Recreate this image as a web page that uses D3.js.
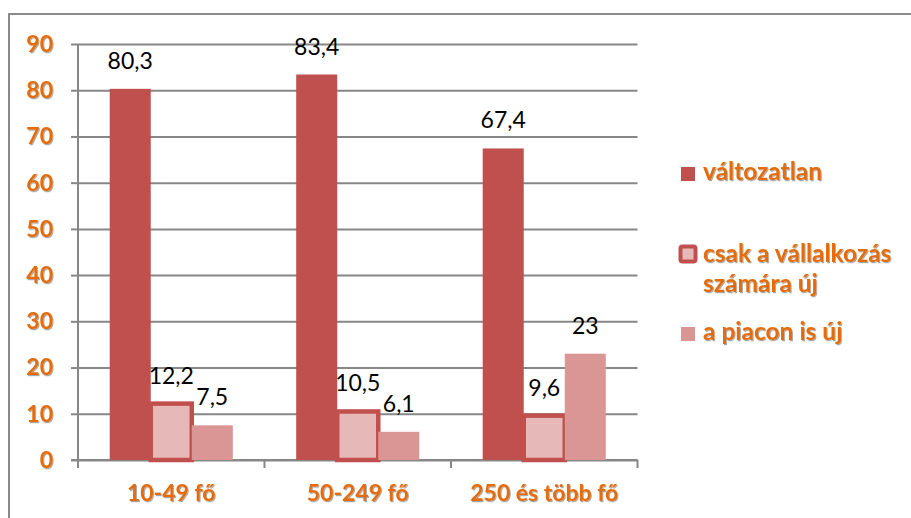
<!DOCTYPE html>
<html>
<head>
<meta charset="utf-8">
<script src="https://cdn.jsdelivr.net/npm/d3@7"></script>
<style>
  html, body { margin: 0; padding: 0; background: #fff; }
  svg { display: block; }
  text { font-family: Lato, "Open Sans", sans-serif; }
</style>
</head>
<body>
<svg id="chart" width="911" height="518"></svg>
<script>
// Company size groups and the three innovation categories (percent)
const categories = ["10-49 fő", "50-249 fő", "250 és több fő"];
const seriesNames = ["változatlan", "csak a vállalkozás számára új", "a piacon is új"];
const valtozatlan = [80.3, 83.4, 67.4];
const vallalkozasUj = [12.2, 10.5, 9.6];
const piaconUj = [7.5, 6.1, 23];
const yTicks = [0, 10, 20, 30, 40, 50, 60, 70, 80, 90];

const seriesValues = [valtozatlan, vallalkozasUj, piaconUj];
const seriesKeys = ["s0", "s1", "s2"];

const RED = "#C0504D", PALE = "#E6B9B8", ROSE = "#D99694";
const ORANGE = "#E46C0A", GRID = "#878787";

const svg = d3.select("#chart");
const defs = svg.append("defs");
const f = defs.append("filter").attr("id", "shadow")
  .attr("x", "-10%").attr("y", "-20%").attr("width", "130%").attr("height", "150%");
f.append("feDropShadow").attr("dx", 1).attr("dy", 1.2).attr("stdDeviation", 0.7)
  .attr("flood-color", "#000").attr("flood-opacity", 0.35);

// outer frame (top and left edges)
svg.append("path").attr("d", "M9,518V14H911")
  .attr("fill", "none").attr("stroke", "#8a8a8a").attr("stroke-width", 2);

const plotLeft = 78, plotRight = 637.5, plotTop = 44, plotBottom = 460;

const y = d3.scaleLinear().domain([0, 90]).range([plotBottom, plotTop]);
const x = d3.scaleBand().domain(categories).range([plotLeft, plotRight]);
const xs = d3.scaleBand().domain(seriesKeys)
  .range([x.bandwidth() * 0.17, x.bandwidth() * 0.83]);

// horizontal gridlines
const grid = svg.append("g").attr("transform", `translate(${plotLeft},0)`)
  .call(d3.axisLeft(y).tickValues(yTicks).tickSize(-(plotRight - plotLeft)).tickFormat(""));
grid.select(".domain").remove();
grid.selectAll("line").attr("stroke", GRID).attr("stroke-width", 2);

// y axis with outer ticks and labels
const yAxis = svg.append("g").attr("transform", `translate(${plotLeft},0)`)
  .call(d3.axisLeft(y).tickValues(yTicks).tickSize(7).tickPadding(18).tickSizeOuter(0));
yAxis.select(".domain").attr("stroke", GRID).attr("stroke-width", 2)
  .attr("d", `M0,${plotTop}V${plotBottom + 8}`);
yAxis.selectAll("line").attr("stroke", GRID).attr("stroke-width", 2);
yAxis.selectAll("text")
  .attr("fill", ORANGE).attr("font-size", 23).attr("font-weight", 700)
  .attr("filter", "url(#shadow)");

// x axis baseline and category boundary ticks
svg.append("line").attr("x1", plotLeft - 7).attr("x2", plotRight)
  .attr("y1", plotBottom).attr("y2", plotBottom)
  .attr("stroke", GRID).attr("stroke-width", 2);
const bounds = categories.map(c => x(c) + x.bandwidth());
svg.append("g").selectAll("line").data(bounds).join("line")
  .attr("x1", d => d).attr("x2", d => d).attr("y1", plotBottom).attr("y2", plotBottom + 8)
  .attr("stroke", GRID).attr("stroke-width", 2);

const xAxis = svg.append("g").attr("transform", `translate(0,${plotBottom})`)
  .call(d3.axisBottom(x).tickSize(0).tickPadding(25));
xAxis.select(".domain").remove();
xAxis.selectAll("text")
  .attr("fill", ORANGE).attr("font-size", 23).attr("font-weight", 700)
  .attr("filter", "url(#shadow)");

// bars
const rows = categories.map((c, i) => ({
  cat: c,
  vals: seriesKeys.map((k, j) => ({ key: k, v: seriesValues[j][i] }))
}));

const groups = svg.append("g").selectAll("g").data(rows).join("g")
  .attr("transform", d => `translate(${x(d.cat)},0)`);

groups.selectAll("rect").data(d => d.vals).join("rect")
  .attr("x", d => xs(d.key))
  .attr("y", d => y(d.v))
  .attr("width", xs.bandwidth())
  .attr("height", d => y(0) - y(d.v))
  .attr("fill", d => d.key === "s0" ? RED : d.key === "s1" ? PALE : ROSE)
  .attr("stroke", d => d.key === "s1" ? RED : "none")
  .attr("stroke-width", d => d.key === "s1" ? 4.5 : 0);

const fmt = v => String(v).replace(".", ",");
groups.selectAll("text.val").data(d => d.vals).join("text")
  .attr("class", "val")
  .attr("x", d => xs(d.key) + xs.bandwidth() / 2)
  .attr("y", d => y(d.v) - 20)
  .attr("text-anchor", "middle")
  .attr("font-size", 23)
  .attr("fill", "#000")
  .text(d => fmt(d.v));

// legend
const legend = svg.append("g");
const legendItems = [
  { key: "s0", lines: ["változatlan"], y: 180 },
  { key: "s1", lines: ["csak a vállalkozás", "számára új"], y: 262 },
  { key: "s2", lines: ["a piacon is új"], y: 340 }
];
legendItems.forEach(it => {
  if (it.key === "s1") {
    legend.append("rect").attr("x", 680.5).attr("y", it.y - 15.5).attr("width", 15).attr("height", 15)
      .attr("rx", 2).attr("fill", PALE).attr("stroke", RED).attr("stroke-width", 4);
  } else {
    legend.append("rect").attr("x", 681).attr("y", it.y - 13).attr("width", 14).attr("height", 14)
      .attr("fill", it.key === "s0" ? RED : ROSE);
  }
  const t = legend.append("text").attr("x", 703).attr("y", it.y)
    .attr("fill", ORANGE).attr("font-size", 24.5).attr("font-weight", 700)
    .attr("filter", "url(#shadow)");
  it.lines.forEach((ln, k) => {
    t.append("tspan").attr("x", 703).attr("dy", k === 0 ? 0 : 30).text(ln);
  });
});
</script>
</body>
</html>
